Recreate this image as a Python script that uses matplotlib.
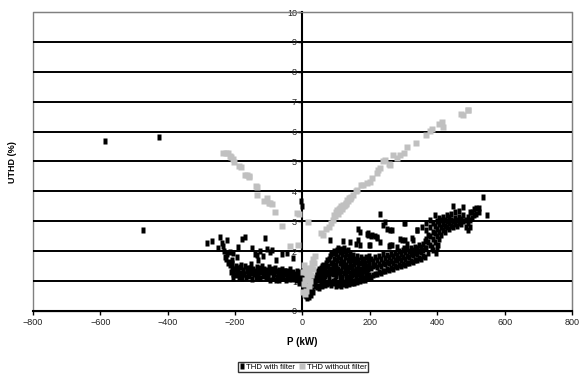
import matplotlib
matplotlib.use("Agg")
import matplotlib.pyplot as plt
from matplotlib.patches import Rectangle

plt.rcParams['font.family'] = ['Liberation Sans', 'DejaVu Sans']

# THD with filter, P (kW) vs UTHD (%)
filt_outliers = [(-586, 5.70), (-426, 5.83), (-473, 2.70), (-3, 3.67), (-2, 3.50), (537, 3.82)]

filt_neg_top = [(-282, 2.28), (-269, 2.35), (-245, 2.46), (-240, 2.26), (-235, 2.17), (-250, 2.10),
                (-223, 2.37), (-230, 1.82), (-215, 1.98), (-205, 1.93), (-210, 1.71), (-205, 1.37),
                (-205, 1.09), (-190, 2.15), (-180, 2.40), (-171, 2.46), (-151, 2.10), (-136, 1.87),
                (-131, 1.71), (-111, 2.43), (-106, 2.06), (-96, 1.98), (-91, 2.04), (-27, 1.76),
                (-60, 1.90), (-45, 1.95), (-220, 1.60), (-195, 1.80), (-140, 1.90), (-118, 1.85),
                (-125, 2.00), (-80, 1.70), (-210, 1.45), (-212, 1.30), (-215, 1.55), (-218, 1.65),
                (-205, 1.25), (-208, 1.60), (-202, 1.42), (-225, 1.90), (-232, 2.00), (-228, 1.75)]

filt_neg_band = [(-198, 1.52), (-197, 1.20), (-194, 1.35), (-190, 1.45), (-188, 1.15), (-185, 1.28),
                 (-182, 1.55), (-180, 1.10), (-177, 1.38), (-174, 1.22), (-171, 1.50), (-168, 1.12),
                 (-165, 1.32), (-162, 1.45), (-159, 1.18), (-156, 1.28), (-153, 1.58), (-150, 1.08),
                 (-147, 1.40), (-144, 1.22), (-141, 1.35), (-138, 1.12), (-135, 1.48), (-132, 1.25),
                 (-129, 1.38), (-126, 1.10), (-123, 1.30), (-120, 1.52), (-117, 1.18), (-114, 1.42),
                 (-111, 1.28), (-108, 1.12), (-105, 1.36), (-102, 1.22), (-99, 1.48), (-96, 1.05),
                 (-93, 1.30), (-90, 1.40), (-87, 1.15), (-84, 1.25), (-81, 1.45), (-78, 1.02),
                 (-75, 1.32), (-72, 1.20), (-69, 1.38), (-66, 1.10), (-63, 1.28), (-60, 1.42),
                 (-57, 1.15), (-54, 1.25), (-51, 1.35), (-48, 1.05), (-45, 1.20), (-42, 1.30),
                 (-39, 1.12), (-36, 1.40), (-33, 1.22), (-30, 1.08), (-27, 1.30), (-24, 1.15),
                 (-21, 1.25), (-18, 1.02), (-15, 1.18), (-12, 1.28), (-9, 0.95), (-6, 1.10), (-3, 1.20),
                 (-196, 1.40), (-186, 1.48), (-176, 1.25), (-166, 1.40), (-156, 1.45), (-146, 1.28),
                 (-136, 1.30), (-126, 1.45), (-116, 1.32), (-106, 1.22), (-96, 1.38), (-86, 1.32),
                 (-76, 1.15), (-66, 1.30), (-56, 1.35), (-46, 1.32), (-36, 1.15), (-26, 1.20),
                 (-16, 1.35), (-6, 1.30), (-191, 1.25), (-161, 1.20), (-131, 1.15), (-101, 1.12),
                 (-71, 1.05), (-41, 1.08), (-11, 1.10)]

filt_zero = [(0, 1.00), (2, 0.85), (4, 0.75), (6, 0.62), (8, 0.55), (10, 0.50), (12, 0.45),
             (14, 0.68), (16, 0.80), (18, 0.48), (20, 0.62), (22, 0.72), (24, 0.52), (26, 0.95),
             (28, 0.70), (30, 0.62), (32, 0.92), (34, 1.05), (36, 0.85), (38, 0.98), (40, 1.10),
             (3, 1.10), (9, 0.95), (15, 1.05), (21, 1.10), (27, 1.15)]

filt_mid = [(42, 0.80), (42, 1.10), (42, 1.30), (46, 0.85), (46, 1.05), (46, 1.35),
            (50, 0.78), (50, 1.15), (50, 1.40), (54, 0.90), (54, 1.20), (54, 1.45),
            (58, 0.85), (58, 1.10), (58, 1.50), (62, 0.92), (62, 1.25), (62, 1.55),
            (66, 0.88), (66, 1.18), (66, 1.48), (70, 0.95), (70, 1.30), (70, 1.62),
            (74, 0.90), (74, 1.22), (74, 1.70), (78, 0.98), (78, 1.35), (78, 1.75),
            (82, 0.93), (82, 1.28), (82, 1.85), (82, 2.37), (86, 0.88), (86, 1.40), (86, 1.90),
            (90, 1.00), (90, 1.25), (90, 1.60), (90, 1.95), (94, 0.92), (94, 1.35), (94, 1.75), (94, 2.02),
            (98, 0.85), (98, 1.18), (98, 1.55), (98, 1.92), (102, 0.95), (102, 1.30), (102, 1.70), (102, 2.05),
            (106, 0.88), (106, 1.42), (106, 1.82), (106, 2.10), (110, 0.92), (110, 1.22), (110, 1.60), (110, 1.98),
            (114, 0.85), (114, 1.35), (114, 1.75), (114, 2.08), (118, 0.95), (118, 1.15), (118, 1.50), (118, 1.90),
            (122, 0.90), (122, 1.28), (122, 1.65), (122, 2.12), (126, 0.98), (126, 1.40), (126, 1.80), (126, 2.00),
            (130, 0.88), (130, 1.20), (130, 1.55), (130, 1.92), (134, 0.95), (134, 1.32), (134, 1.72), (134, 2.05),
            (138, 0.90), (138, 1.15), (138, 1.48), (138, 1.85), (142, 0.98), (142, 1.28), (142, 1.62), (142, 1.95),
            (146, 0.92), (146, 1.20), (146, 1.50), (146, 1.78), (150, 1.00), (150, 1.35), (150, 1.70), (150, 1.88),
            (154, 0.95), (154, 1.22), (154, 1.58), (158, 1.02), (158, 1.40), (158, 1.75),
            (162, 0.97), (162, 1.25), (162, 1.65), (162, 1.85), (166, 1.05), (166, 1.38), (166, 1.72),
            (170, 1.00), (170, 1.28), (170, 1.60), (174, 1.08), (174, 1.42), (174, 1.80),
            (178, 1.02), (178, 1.30), (178, 1.68), (182, 1.10), (182, 1.45), (182, 1.75),
            (186, 1.05), (186, 1.35), (186, 1.62), (190, 1.15), (190, 1.50), (190, 1.82),
            (194, 1.10), (194, 1.40), (194, 1.70), (198, 1.20), (198, 1.55), (198, 1.85),
            (44, 1.20), (52, 1.30), (60, 1.35), (68, 1.40), (76, 1.50), (84, 1.60), (92, 1.45),
            (100, 1.45), (108, 1.30), (116, 1.62), (124, 1.52), (132, 1.38), (140, 1.72),
            (148, 1.40), (156, 1.32), (164, 1.50), (172, 1.18), (180, 1.55), (188, 1.25), (196, 1.62),
            (64, 1.05), (80, 1.12), (96, 1.05), (112, 1.10), (128, 1.08), (144, 1.08), (160, 1.12),
            (176, 1.20), (192, 1.30)]

filt_scatter = [(166, 2.37), (170, 2.20), (194, 2.54), (198, 2.20), (171, 2.65), (195, 2.60),
                (205, 2.54), (220, 2.46), (230, 3.24), (240, 2.88), (245, 2.99), (260, 2.71),
                (265, 2.20), (260, 2.20), (294, 2.37), (304, 2.93), (324, 2.43), (329, 2.37),
                (304, 2.37), (339, 2.71), (220, 2.43), (200, 2.20), (160, 2.25), (140, 2.30),
                (120, 2.35), (230, 2.30), (280, 2.15), (310, 2.25), (164, 2.73), (191, 2.57),
                (202, 2.50), (215, 2.50), (251, 2.73), (257, 2.18), (301, 2.95), (290, 2.40),
                (301, 2.09), (265, 2.70), (340, 2.70), (355, 2.82)]

filt_upper = [(202, 1.15), (202, 1.45), (202, 1.75), (208, 1.20), (208, 1.50), (208, 1.68),
              (214, 1.25), (214, 1.55), (214, 1.80), (220, 1.22), (220, 1.48), (220, 1.72),
              (226, 1.30), (226, 1.58), (226, 1.85), (232, 1.28), (232, 1.52), (232, 1.75),
              (238, 1.35), (238, 1.62), (238, 1.90), (244, 1.32), (244, 1.58), (244, 1.78),
              (250, 1.40), (250, 1.65), (250, 1.88), (256, 1.38), (256, 1.60), (256, 1.82),
              (262, 1.45), (262, 1.68), (262, 1.92), (268, 1.42), (268, 1.62), (268, 1.85),
              (274, 1.50), (274, 1.72), (274, 1.95), (280, 1.48), (280, 1.70), (280, 1.88),
              (286, 1.55), (286, 1.78), (286, 2.00), (292, 1.52), (292, 1.72), (292, 1.92),
              (298, 1.58), (298, 1.80), (298, 2.05), (304, 1.55), (304, 1.75), (304, 1.98),
              (310, 1.62), (310, 1.85), (310, 2.08), (316, 1.60), (316, 1.82), (316, 2.02),
              (322, 1.68), (322, 1.90), (322, 2.10), (328, 1.65), (328, 1.88), (328, 2.05),
              (334, 1.72), (334, 1.95), (334, 2.15), (340, 1.70), (340, 1.92), (340, 2.10),
              (346, 1.78), (346, 2.00), (346, 2.20), (352, 1.75), (352, 1.98), (352, 2.15),
              (358, 1.85), (358, 2.05), (358, 2.25), (364, 1.82), (364, 2.10), (364, 2.35),
              (368, 2.10), (368, 2.40), (368, 2.70), (368, 2.93), (374, 1.95), (374, 2.30), (374, 2.55),
              (380, 2.20), (380, 2.50), (380, 2.80), (380, 3.05), (386, 2.05), (386, 2.40), (386, 2.65), (386, 2.95),
              (392, 2.30), (392, 2.60), (392, 2.85), (392, 3.21), (398, 2.15), (398, 2.50), (398, 2.75), (398, 3.00),
              (404, 2.40), (404, 2.65), (404, 2.90), (404, 3.10), (410, 2.55), (410, 2.80), (410, 3.05),
              (416, 2.70), (416, 2.90), (416, 3.15), (422, 2.65), (422, 2.85), (422, 3.05),
              (428, 2.80), (428, 3.00), (428, 3.20), (434, 2.75), (434, 2.95), (434, 3.15),
              (440, 2.85), (440, 3.05), (440, 3.25), (446, 2.80), (446, 3.00), (446, 3.51),
              (452, 2.90), (452, 3.10), (452, 3.30), (458, 2.85), (458, 3.05),
              (464, 2.95), (464, 3.15), (464, 3.35), (470, 2.90), (470, 3.08),
              (477, 3.00), (477, 3.20), (477, 3.49), (484, 2.80), (484, 3.05),
              (490, 2.72), (490, 2.95), (490, 3.15), (497, 2.82), (497, 3.05), (497, 3.30),
              (503, 3.10), (503, 3.32), (508, 3.20), (508, 3.40), (515, 3.25), (515, 3.45),
              (525, 3.30), (525, 3.43), (547, 3.21), (383, 2.15), (403, 2.20), (395, 1.95)]

# THD without filter
nofilt_neg = [(-235, 5.30), (-228, 5.29), (-222, 5.28), (-215, 5.20), (-211, 5.15), (-205, 5.10),
              (-203, 4.98), (-187, 4.86), (-182, 4.83), (-172, 4.54), (-166, 4.55), (-160, 4.50),
              (-158, 4.48), (-139, 4.17), (-134, 4.14), (-136, 3.88), (-115, 3.68), (-106, 3.79),
              (-100, 3.62), (-95, 3.60), (-91, 3.58), (-81, 3.32), (-62, 2.84), (-38, 2.18),
              (-12, 2.20), (-10, 3.25), (-15, 3.29), (15, 2.98)]

nofilt_zero = [(2, 0.62), (6, 0.58), (10, 0.66), (4, 0.90), (8, 1.05), (12, 1.20), (6, 1.35),
               (10, 1.45), (16, 1.10), (20, 1.30), (24, 1.45), (28, 1.60), (32, 1.75), (36, 1.85),
               (18, 0.85), (22, 1.00), (26, 1.20), (30, 1.40), (34, 1.60), (4, 1.55), (2, 1.30)]

nofilt_pos = [(55, 2.62), (62, 2.55), (70, 2.73), (78, 2.80), (86, 2.95), (92, 3.05), (97, 3.17),
              (101, 3.38), (104, 3.25), (108, 3.40), (112, 3.35), (116, 3.48), (120, 3.54), (125, 3.56),
              (130, 3.62), (135, 3.68), (141, 3.73), (141, 3.78), (150, 3.88), (158, 4.00), (161, 4.05),
              (174, 4.22), (180, 4.21), (191, 4.28), (200, 4.32), (207, 4.45), (220, 4.60), (224, 4.72),
              (230, 4.78), (240, 5.03), (245, 5.05), (257, 4.90), (260, 4.88), (268, 5.22), (280, 5.12),
              (289, 5.22), (301, 5.28), (309, 5.50), (338, 5.63), (367, 5.88), (378, 6.02), (383, 6.08),
              (405, 6.25), (413, 6.33), (417, 6.16), (471, 6.60), (477, 6.56), (490, 6.71), (492, 6.72),
              (95, 3.22), (100, 3.30), (105, 3.35), (110, 3.45), (115, 3.52), (118, 3.40), (123, 3.50),
              (128, 3.58), (132, 3.70), (138, 3.78), (145, 3.82)]

x_ticks = [-800, -600, -400, -200, 0, 200, 400, 600, 800]
y_ticks = [0, 1, 2, 3, 4, 5, 6, 7, 8, 9, 10]

with_filter = filt_outliers + filt_neg_top + filt_neg_band + filt_zero + filt_mid + filt_scatter + filt_upper
without_filter = nofilt_neg + nofilt_zero + nofilt_pos
wf_x, wf_y = zip(*with_filter)
nf_x, nf_y = zip(*without_filter)

fig = plt.figure(figsize=(5.83, 3.76), dpi=100)
ax = fig.add_axes([0.0566, 0.173, 0.9245, 0.795])

for y in y_ticks[1:-1]:
    ax.axhline(y, color='black', lw=1.4, zorder=1)

# narrow upright dash used by the "with filter" series
dash = [(-0.5, -1), (0.5, -1), (0.5, 1), (-0.5, 1)]
ax.plot(wf_x, wf_y, ls='none', marker=dash, ms=4.5, mfc='black', mec='none',
        label='THD with filter', zorder=3)
ax.plot(nf_x, nf_y, ls='none', marker='s', ms=3.8, mfc='#c0c0c0', mec='none',
        label='THD without filter', zorder=4)

ax.set_xlim(-800, 800)
ax.set_ylim(0, 10)
ax.set_xticks(x_ticks)
ax.set_yticks(y_ticks)

# vertical axis crosses at P = 0
ax.spines['left'].set_position(('data', 0))
ax.spines['left'].set_linewidth(1.5)
ax.spines['bottom'].set_linewidth(1.5)
ax.spines['top'].set_color('#808080')
ax.spines['right'].set_color('#808080')
ax.add_patch(Rectangle((0, 0), 1, 1, transform=ax.transAxes, fill=False,
                       ec='#808080', lw=1, clip_on=False, zorder=0))
ax.tick_params(axis='both', labelsize=6.5, length=3, width=1, pad=2, labelcolor='#222222')
ax.tick_params(axis='y', pad=1)

ax.set_xlabel('P (kW)', fontsize=7, fontweight='bold', labelpad=7)
fig.text(0.022, 0.57, 'UTHD (%)', rotation=90, ha='center', va='center',
         fontsize=6.5, fontweight='bold')

leg = ax.legend(loc='center', bbox_to_anchor=(0.52, 0.024), bbox_transform=fig.transFigure,
                ncol=2, fontsize=5.6, frameon=True, fancybox=False, handlelength=0.6,
                handletextpad=0.25, columnspacing=0.6, borderpad=0.2, markerscale=1.0)
leg.get_frame().set_edgecolor('black')
leg.get_frame().set_linewidth(1)

fig.savefig('out.png', dpi=100)
